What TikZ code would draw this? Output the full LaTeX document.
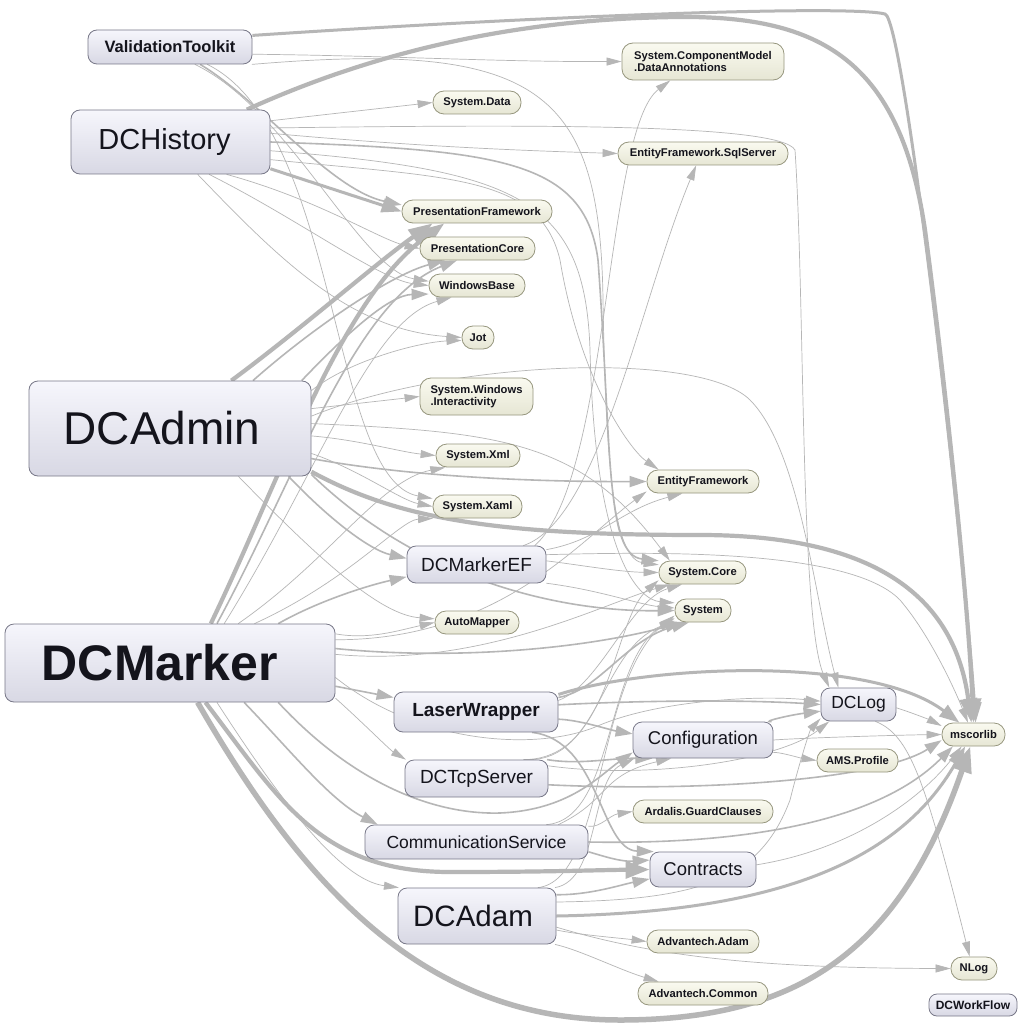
\documentclass[tikz,border=0pt]{standalone}
\usepackage{fontspec}
\setmainfont{Liberation Sans}
\usetikzlibrary{arrows.meta}
\pgfdeclarelayer{edgelayer}
\pgfsetlayers{edgelayer,main}
\definecolor{ec}{RGB}{182,182,182}
\definecolor{asmtop}{RGB}{246,246,252}
\definecolor{asmbot}{RGB}{216,216,228}
\definecolor{asmbd}{RGB}{120,120,136}
\definecolor{exttop}{RGB}{250,250,240}
\definecolor{extbot}{RGB}{230,230,212}
\definecolor{extbd}{RGB}{150,150,126}
\definecolor{txt}{RGB}{20,20,28}
\tikzset{
  asm/.style={draw=asmbd, line width=0.8pt, rounded corners=9pt, top color=asmtop, bottom color=asmbot, text=txt, inner sep=0pt, anchor=center},
  ext/.style={draw=extbd, line width=0.8pt, rounded corners=11pt, top color=exttop, bottom color=extbot, text=txt, inner sep=0pt, anchor=center, font=\fontsize{11.2}{12.5}\selectfont\bfseries, minimum height=23pt},
  e1/.style={draw=ec, line width=0.7pt, -{Triangle[length=15pt,width=8pt]}},
  e2/.style={draw=ec, line width=1.6pt, -{Triangle[length=17pt,width=11pt]}},
  e3/.style={draw=ec, line width=3pt, -{Triangle[length=20pt,width=14pt]}},
  e4/.style={draw=ec, line width=4.2pt, -{Triangle[length=24pt,width=17pt]}},
  e5/.style={draw=ec, line width=5.5pt, -{Triangle[length=26pt,width=19pt]}},
}
\newcommand{\fs}[1]{\fontsize{#1}{#1}\selectfont}
\begin{document}
\begin{tikzpicture}[x=1pt,y=-1pt]
\useasboundingbox (0,0) rectangle (1023,1024);
% assemblies
\node[asm, minimum width=164pt, minimum height=34pt, font=\fs{16.5}\bfseries] (VT) at (170,47) {ValidationToolkit};
\node[asm, minimum width=199pt, minimum height=64pt, font=\fs{29}] (DCH) at (170.5,142) {\hspace*{-12pt}DCHistory};
\node[asm, minimum width=282pt, minimum height=95pt, font=\fs{46}] (DCAd) at (170,428.5) {\hspace*{-16pt}DCAdmin};
\node[asm, minimum width=330pt, minimum height=78pt, font=\fs{50}\bfseries] (DCM) at (170,663) {\hspace*{-20pt}DCMarker};
\node[asm, minimum width=139pt, minimum height=37pt, font=\fs{19}] (MEF) at (476.5,564.5) {DCMarkerEF};
\node[asm, minimum width=164pt, minimum height=40pt, font=\fs{19}\bfseries] (LW) at (476,712) {LaserWrapper};
\node[asm, minimum width=143pt, minimum height=37pt, font=\fs{19}] (TCP) at (476.5,778.5) {DCTcpServer};
\node[asm, minimum width=223pt, minimum height=34pt, font=\fs{17.5}] (CS) at (476.5,842) {CommunicationService};
\node[asm, minimum width=158pt, minimum height=56pt, font=\fs{29.5}] (ADAM) at (477,916) {\hspace*{-8pt}DCAdam};
\node[asm, minimum width=140pt, minimum height=36pt, font=\fs{18.5}] (CONF) at (703,740) {Configuration};
\node[asm, minimum width=106pt, minimum height=35pt, font=\fs{18.5}] (CONT) at (703,869.5) {Contracts};
\node[asm, minimum width=75pt, minimum height=33pt, font=\fs{17.5}] (LOG) at (858.5,704.5) {DCLog};
\node[asm, minimum width=88pt, minimum height=22pt, rounded corners=8pt, font=\fs{12}\bfseries] (WF) at (973,1005) {DCWorkFlow};
% externals
\node[ext, minimum width=162pt, minimum height=37pt, align=left] (DA) at (703,61.5) {System.ComponentModel\\.DataAnnotations};
\node[ext, minimum width=88pt] (SD) at (477,102.5) {System.Data};
\node[ext, minimum width=170pt] (EFS) at (703,153.5) {EntityFramework.SqlServer};
\node[ext, minimum width=150pt] (PF) at (477,211.5) {PresentationFramework};
\node[ext, minimum width=115pt] (PC) at (477.5,248.5) {PresentationCore};
\node[ext, minimum width=96pt] (WB) at (477,285.5) {WindowsBase};
\node[ext, minimum width=32pt] (JOT) at (478,337.5) {Jot};
\node[ext, minimum width=113pt, minimum height=37pt, align=left] (SWI) at (476.5,396.5) {System.Windows\\.Interactivity};
\node[ext, minimum width=84pt] (SX) at (478,455.5) {System.Xml};
\node[ext, minimum width=112pt] (EF) at (703,481.5) {EntityFramework};
\node[ext, minimum width=89pt] (SXA) at (477.5,506.5) {System.Xaml};
\node[ext, minimum width=87pt] (SC) at (702.5,572.5) {System.Core};
\node[ext, minimum width=56pt] (SYS) at (703,610.5) {System};
\node[ext, minimum width=84pt] (AM) at (477,622.5) {AutoMapper};
\node[ext, minimum width=63pt] (MS) at (973.5,734.5) {mscorlib};
\node[ext, minimum width=81pt] (AMS) at (857.5,760.5) {AMS.Profile};
\node[ext, minimum width=140pt] (ARD) at (703,811.5) {Ardalis.GuardClauses};
\node[ext, minimum width=112pt] (AA) at (703,941.5) {Advantech.Adam};
\node[ext, minimum width=130pt] (AC) at (703,993.5) {Advantech.Common};
\node[ext, minimum width=46pt] (NLOG) at (974,968.5) {NLog};

\begin{pgfonlayer}{edgelayer}
\fill[white] (0,0) rectangle (1023,1024);
% ValidationToolkit
\draw[e3] (VT.8) .. controls (560,15) and (850,5) .. (885,14) .. controls (905,20) and (965,560) .. (MS.80);
\draw[e1] (VT.-5) .. controls (400,56) and (500,62) .. (DA.west);
\draw[e1] (VT.-12) .. controls (540,40) and (600,90) .. (603,300) .. controls (606,480) and (615,560) .. (SC.170);
\draw[e2] (VT.-30) .. controls (260,100) and (330,190) .. (PF.175);
\draw[e1] (VT.-35) .. controls (290,110) and (360,270) .. (WB.175);
\draw[e1] (VT.-25) .. controls (340,130) and (330,480) .. (SXA.170);
% DCHistory
\draw[e4] (DCH.23) .. controls (400,40) and (550,18) .. (680,17) .. controls (820,16) and (900,60) .. (925,230) .. controls (945,380) and (968,600) .. (MS.90);
\draw[e1] (DCH.12) -- (SD.west);
\draw[e1] (DCH.5) .. controls (400,145) and (500,150) .. (EFS.west);
\draw[e3] (DCH.-15) -- (PF.west);
\draw[e1] (DCH.-30) .. controls (320,200) and (380,240) .. (PC.west);
\draw[e1] (DCH.-40) .. controls (300,220) and (380,280) .. (WB.west);
\draw[e1] (DCH.-50) .. controls (280,260) and (350,330) .. (JOT.west);
\draw[e2] (DCH.0) .. controls (500,150) and (585,160) .. (598,260) .. controls (612,450) and (605,555) .. (SC.165);
\draw[e1] (DCH.-5) .. controls (520,170) and (585,200) .. (590,350) .. controls (595,560) and (640,600) .. (SYS.165);
\draw[e1] (DCH.-10) .. controls (450,178) and (540,175) .. (560,260) .. controls (580,380) and (630,450) .. (EF.165);
\draw[e1] (DCH.8) .. controls (500,125) and (780,122) .. (795,150) .. controls (805,300) and (800,620) .. (LOG.150);
% DCAdmin
\draw[e4] (DCAd.38) .. controls (300,330) and (380,260) .. (PF.-165);
\draw[e2] (DCAd.30) .. controls (310,330) and (390,275) .. (PC.-160);
\draw[e2] (DCAd.20) .. controls (350,330) and (390,295) .. (WB.-170);
\draw[e1] (DCAd.15) .. controls (350,360) and (420,342) .. (JOT.-170);
\draw[e1] (DCAd.8) -- (SWI.west);
\draw[e1] (DCAd.-3) .. controls (360,440) and (400,452) .. (SX.west);
\draw[e1] (DCAd.-10) .. controls (360,470) and (400,500) .. (SXA.west);
\draw[e2] (DCAd.-12) .. controls (400,475) and (520,482) .. (EF.west);
\draw[e2] (DCAd.-22) .. controls (330,520) and (370,550) .. (MEF.175);
\draw[e1] (DCAd.-35) .. controls (320,560) and (380,615) .. (AM.175);
\draw[e2] (DCAd.-18) .. controls (420,580) and (560,612) .. (SYS.west);
\draw[e1] (DCAd.2) .. controls (500,432) and (580,440) .. (SC.160);
\draw[e4] (DCAd.-17) .. controls (400,520) and (500,535) .. (700,535) .. controls (880,535) and (955,600) .. (MS.100);
\draw[e1] (DCAd.5) .. controls (450,360) and (700,350) .. (750,400) .. controls (800,450) and (815,600) .. (LOG.140);
% DCMarker
\draw[e4] (DCM.44) .. controls (280,480) and (340,300) .. (PF.-160);
\draw[e2] (DCM.40) .. controls (295,480) and (355,300) .. (PC.-150);
\draw[e1] (DCM.36) .. controls (320,470) and (370,320) .. (WB.-155);
\draw[e1] (DCM.30) .. controls (330,560) and (380,480) .. (SX.-160);
\draw[e1] (DCM.25) .. controls (350,580) and (400,520) .. (SXA.-165);
\draw[e2] (DCM.20) .. controls (320,600) and (370,585) .. (MEF.-170);
\draw[e1] (DCM.10) .. controls (370,640) and (400,630) .. (AM.west);
\draw[e1] (DCM.8) .. controls (500,640) and (580,540) .. (EF.-170);
\draw[e2] (DCM.5) .. controls (450,660) and (580,650) .. (SYS.-150);
\draw[e1] (DCM.3) .. controls (480,668) and (600,605) .. (SC.-160);
\draw[e2] (DCM.-8) -- (LW.170);
\draw[e1] (DCM.-12) .. controls (360,720) and (390,750) .. (TCP.165);
\draw[e2] (DCM.-28) .. controls (290,750) and (330,800) .. (CS.170);
\draw[e1] (DCM.-40) .. controls (280,800) and (340,880) .. (ADAM.160);
\draw[e4] (DCM.-48) .. controls (280,800) and (320,872) .. (450,872) .. controls (550,872) and (600,870) .. (CONT.west);
\draw[e2] (DCM.-20) .. controls (350,780) and (430,815) .. (500,813) .. controls (570,810) and (600,775) .. (CONF.-170);
\draw[e1] (DCM.-5) .. controls (420,745) and (540,752) .. (600,725) .. controls (660,700) and (760,695) .. (LOG.175);
\draw[e5] (DCM.-55) .. controls (300,880) and (420,1020) .. (620,1020) .. controls (800,1020) and (900,950) .. (MS.-105);
% LaserWrapper
\draw[e3] (LW.12) .. controls (650,665) and (870,655) .. (MS.140);
\draw[e2] (LW.5) .. controls (650,700) and (750,700) .. (LOG.west);
\draw[e2] (LW.-5) .. controls (580,720) and (610,730) .. (CONF.175);
\draw[e2] (LW.10) .. controls (600,690) and (625,640) .. (SYS.-140);
\draw[e1] (LW.8) .. controls (600,685) and (630,600) .. (SC.-150);
\draw[e2] (LW.-20) .. controls (600,740) and (600,850) .. (CONT.160);
% DCTcpServer
\draw[e2] (TCP.15) .. controls (580,765) and (610,758) .. (CONF.-160);
\draw[e1] (TCP.20) .. controls (600,760) and (600,650) .. (SYS.-160);
\draw[e1] (TCP.22) .. controls (612,760) and (612,620) .. (SC.-170);
\draw[e2] (TCP.-5) .. controls (700,792) and (880,780) .. (MS.-170);
\draw[e1] (TCP.10) .. controls (650,780) and (780,760) .. (LOG.-150);
% CommunicationService
\draw[e1] (CS.8) .. controls (600,828) and (610,815) .. (ARD.west);
\draw[e2] (CS.-5) .. controls (600,855) and (620,862) .. (CONT.170);
\draw[e2] (CS.0) .. controls (750,845) and (880,820) .. (MS.-150);
\draw[e1] (CS.12) .. controls (610,800) and (600,775) .. (CONF.-150);
\draw[e1] (CS.14) .. controls (615,820) and (605,660) .. (SYS.-165);
% DCAdam
\draw[e2] (ADAM.15) .. controls (590,895) and (620,885) .. (CONT.-170);
\draw[e3] (ADAM.0) .. controls (780,912) and (900,860) .. (MS.-125);
\draw[e1] (ADAM.-10) .. controls (580,935) and (620,938) .. (AA.west);
\draw[e1] (ADAM.-20) .. controls (580,950) and (620,970) .. (AC.165);
\draw[e1] (ADAM.-8) .. controls (650,955) and (750,968) .. (NLOG.west);
\draw[e1] (ADAM.10) .. controls (700,900) and (760,880) .. (790,800) .. controls (800,760) and (810,730) .. (LOG.-160);
\draw[e1] (ADAM.20) .. controls (600,880) and (590,780) .. (CONF.-165);
\draw[e1] (ADAM.25) .. controls (605,880) and (595,680) .. (SYS.-170);
% Configuration, Contracts, DCLog
\draw[e2] (CONF.15) .. controls (760,722) and (790,715) .. (LOG.-170);
\draw[e1] (CONF.0) .. controls (800,738) and (900,735) .. (MS.west);
\draw[e1] (CONF.-10) .. controls (780,752) and (800,758) .. (AMS.west);
\draw[e1] (CONT.5) .. controls (850,850) and (920,800) .. (MS.-135);
\draw[e1] (LOG.-5) .. controls (910,712) and (930,720) .. (MS.165);
\draw[e1] (LOG.-45) .. controls (910,735) and (925,780) .. (NLOG.110);
% DCMarkerEF
\draw[e1] (MEF.12) .. controls (600,540) and (620,510) .. (EF.-150);
\draw[e1] (MEF.3) .. controls (580,565) and (620,572) .. (SC.west);
\draw[e1] (MEF.-15) .. controls (600,590) and (640,605) .. (SYS.175);
\draw[e1] (MEF.8) .. controls (650,552) and (850,548) .. (900,600) .. controls (930,635) and (955,690) .. (MS.115);
\draw[e1] (MEF.22) .. controls (600,520) and (640,300) .. (EFS.-120);
\draw[e1] (MEF.18) .. controls (610,480) and (605,130) .. (DA.-150);
\end{pgfonlayer}
\end{tikzpicture}
\end{document}
